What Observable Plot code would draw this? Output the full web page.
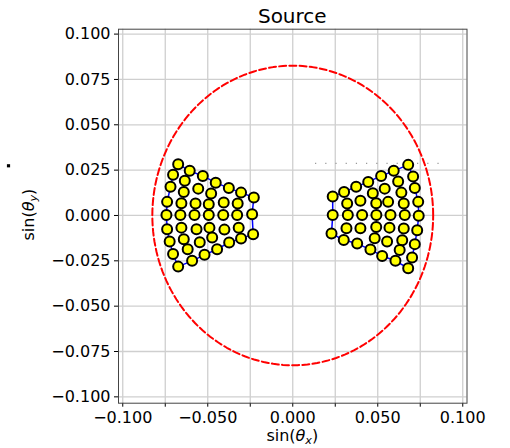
<!DOCTYPE html>
<html>
<head>
<meta charset="utf-8">
<script src="https://cdn.jsdelivr.net/npm/d3@7"></script>
<script src="https://cdn.jsdelivr.net/npm/@observablehq/plot@0.6"></script>
<style>
  html, body { margin: 0; padding: 0; background: white; }
  #chart { width: 510px; height: 448px; }
</style>
</head>
<body>
<div id="chart"></div>
<script>
// ---- data ----
const titleText = "Source";
const xTicks = [-0.1, -0.075, -0.05, -0.025, 0, 0.025, 0.05, 0.075, 0.1];
const yTicks = [-0.1, -0.075, -0.05, -0.025, 0, 0.025, 0.05, 0.075, 0.1];
const xLabeled = [-0.1, -0.05, 0, 0.05, 0.1];

const leftX = [-0.0674,-0.0704,-0.0606,-0.0529,-0.0453,-0.0376,-0.0304,-0.0229,-0.0635,-0.0719,
  -0.0641,-0.0556,-0.0480,-0.0739,-0.0655,-0.0572,-0.0494,-0.0406,-0.0324,-0.0743,
  -0.0661,-0.0578,-0.0494,-0.0409,-0.0327,-0.0239,-0.0739,-0.0655,-0.0566,-0.0490,
  -0.0402,-0.0318,-0.0724,-0.0641,-0.0547,-0.0474,-0.0374,-0.0304,-0.0233,-0.0704,
  -0.0618,-0.0519,-0.0445,-0.0674,-0.0592];
const leftY = [0.0283,0.0224,0.0246,0.0218,0.0181,0.0151,0.0126,0.0099,0.0191,0.0158,
  0.0129,0.0148,0.0121,0.0075,0.0068,0.0066,0.0062,0.0071,0.0066,0.0002,
  0.0002,0.0002,0.0002,0.0002,0.0002,0.0007,-0.0076,-0.0067,-0.0076,-0.0067,
  -0.0078,-0.0068,-0.0144,-0.0131,-0.0147,-0.0122,-0.0149,-0.0127,-0.0103,-0.0213,
  -0.0186,-0.0217,-0.0186,-0.0282,-0.0250];
const leftOutline = [0,2,3,4,5,6,7,25,38,37,36,42,41,44,43,39,32,26,19,13,9,1,0];

const rightX = [0.0679,0.0594,0.0708,0.0520,0.0620,0.0718,0.0444,0.0541,0.0639,0.0373,
  0.0471,0.0302,0.0235,0.0320,0.0398,0.0491,0.0561,0.0653,0.0738,0.0235,
  0.0324,0.0408,0.0492,0.0575,0.0659,0.0741,0.0316,0.0398,0.0491,0.0569,
  0.0653,0.0732,0.0228,0.0300,0.0379,0.0482,0.0555,0.0644,0.0718,0.0457,
  0.0629,0.0526,0.0702,0.0604,0.0679];
const rightY = [0.0279,0.0246,0.0215,0.0218,0.0187,0.0151,0.0185,0.0148,0.0126,0.0158,
  0.0123,0.0130,0.0104,0.0066,0.0081,0.0068,0.0075,0.0066,0.0075,0.0002,
  0.0002,0.0002,0.0002,0.0002,0.0002,-0.0002,-0.0070,-0.0070,-0.0063,-0.0067,
  -0.0072,-0.0081,-0.0100,-0.0135,-0.0155,-0.0125,-0.0144,-0.0136,-0.0158,-0.0188,
  -0.0191,-0.0223,-0.0232,-0.0250,-0.0291];
const rightOutline = [0,1,3,6,9,11,12,19,32,33,34,39,41,43,44,42,38,31,25,18,5,2,0];

const circleRadius = [0.0826];
const dottedY = [0.0287];
const dottedX = [0.0134, 0.0898];
const strayX = [-0.1672];
const strayY = [0.0274];

// ---- derived tables ----
const left = leftX.map((x, i) => ({x, y: leftY[i]}));
const right = rightX.map((x, i) => ({x, y: rightY[i]}));
const leftPoly = leftOutline.map(i => left[i]);
const rightPoly = rightOutline.map(i => right[i]);
const circle = d3.range(0, 361, 2).map(a => ({
  x: circleRadius[0] * Math.cos(a * Math.PI / 180),
  y: circleRadius[0] * Math.sin(a * Math.PI / 180)
}));
const stray = strayX.map((x, i) => ({x, y: strayY[i]}));

const fmt = d3.format(".3f");
const chart = Plot.plot({
  width: 510,
  height: 448,
  marginLeft: 118,
  marginRight: 43.5,
  marginTop: 28.7,
  marginBottom: 45.3,
  style: {fontFamily: "DejaVu Sans", fontSize: "16px", background: "white", color: "black"},
  x: {domain: [-0.1025, 0.1025], ticks: xTicks, label: null, tickSize: 4, tickPadding: 4,
      tickFormat: d => xLabeled.some(v => Math.abs(v - d) < 1e-9) ? fmt(d) : ""},
  y: {domain: [-0.1035, 0.1027], ticks: yTicks, label: null, tickSize: 4, tickPadding: 4,
      tickFormat: d => fmt(d)},
  marks: [
    Plot.ruleX(xTicks, {stroke: "#cfcfcf", strokeWidth: 1.3}),
    Plot.ruleY(yTicks, {stroke: "#cfcfcf", strokeWidth: 1.3}),
    Plot.ruleY(dottedY, {x1: dottedX[0], x2: dottedX[1], stroke: "#999", strokeWidth: 1.2, strokeDasharray: "1.2,9"}),
    Plot.frame({stroke: "#444", strokeWidth: 1}),
    Plot.line(circle, {x: "x", y: "y", stroke: "#ff0000", strokeWidth: 2, strokeDasharray: "7,3.2", curve: "linear"}),
    Plot.line(leftPoly, {x: "x", y: "y", stroke: "#0000ff", strokeWidth: 1.5}),
    Plot.line(rightPoly, {x: "x", y: "y", stroke: "#0000ff", strokeWidth: 1.5}),
    Plot.dot(left, {x: "x", y: "y", r: 5, fill: "#ffff00", stroke: "black", strokeWidth: 2}),
    Plot.dot(right, {x: "x", y: "y", r: 5, fill: "#ffff00", stroke: "black", strokeWidth: 2}),
    Plot.dot(stray, {x: "x", y: "y", symbol: "square", r: 1.8, fill: "black", stroke: null, clip: false})
  ]
});

const svg = d3.select(chart);
svg.append("text")
  .attr("x", 292.3).attr("y", 23)
  .attr("text-anchor", "middle")
  .attr("font-family", "DejaVu Sans").attr("font-size", 20).attr("fill", "black")
  .text(titleText);

function mathLabel(g, sub) {
  g.append("tspan").text("sin(");
  g.append("tspan").attr("font-style", "italic").text("θ");
  g.append("tspan").attr("font-style", "italic").attr("font-size", "0.7em").attr("dy", "0.3em").text(sub);
  g.append("tspan").attr("dy", "-0.21em").text(")");
}
const xl = svg.append("text")
  .attr("x", 292.3).attr("y", 441)
  .attr("text-anchor", "middle")
  .attr("font-family", "DejaVu Sans").attr("font-size", 16).attr("fill", "black");
mathLabel(xl, "x");
const yl = svg.append("text")
  .attr("transform", "translate(34,214.6) rotate(-90)")
  .attr("text-anchor", "middle")
  .attr("font-family", "DejaVu Sans").attr("font-size", 16).attr("fill", "black");
mathLabel(yl, "y");

document.getElementById("chart").appendChild(chart);
</script>
</body>
</html>
